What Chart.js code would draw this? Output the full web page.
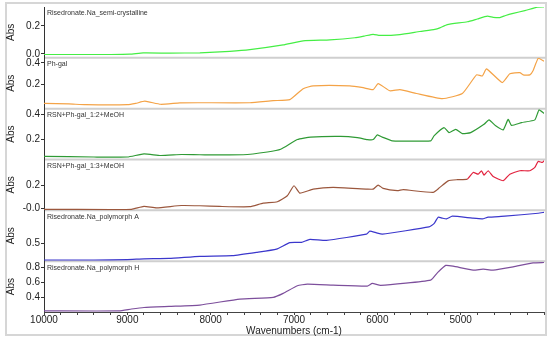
<!DOCTYPE html>
<html>
<head>
<meta charset="utf-8">
<script src="https://cdn.jsdelivr.net/npm/chart.js@4.4.1/dist/chart.umd.min.js"></script>
<style>
  body { margin: 0; background: #fff; }
  #wrap { position: relative; width: 550px; height: 345px; }
  #frame { position: absolute; left: 5px; top: 2px; width: 538px; height: 330px; border: 2px solid #d6d6d6; }
  canvas { position: absolute; left: 0; top: 0; }
</style>
</head>
<body>
<div id="wrap"><div id="frame"></div><canvas id="chart" width="550" height="345"></canvas></div>
<script>
// spectra (wavenumber cm-1, absorbance)
var wnSemi = [10000, 9200, 8970, 8810, 8490, 8130, 7770, 7530, 7130, 6890, 6570, 6270, 6150, 6050, 5970, 5730, 5490, 5310, 5250, 5160, 4920, 4800, 4680, 4610, 4530, 4460, 4370, 4230, 4080, 4000]
var absSemi = [-0.005, -0.005, -0.003, 0.006, 0.005, 0.007, 0.018, 0.03, 0.064, 0.093, 0.1, 0.115, 0.128, 0.14, 0.132, 0.138, 0.16, 0.175, 0.186, 0.21, 0.23, 0.25, 0.27, 0.262, 0.26, 0.275, 0.29, 0.31, 0.335, 0.336]

var wnPh = [10000, 9700, 9500, 9000, 8900, 8790, 8600, 8370, 8130, 7530, 7250, 7050, 6890, 6770, 6330, 6170, 6050, 5990, 5850, 5730, 5530, 5220, 4980, 4810, 4740, 4690, 4500, 4410, 4290, 4250, 4170, 4130, 4070, 4000]
var absPh = [0.03, 0.025, 0.018, 0.018, 0.03, 0.05, 0.022, 0.035, 0.036, 0.036, 0.055, 0.064, 0.164, 0.19, 0.19, 0.173, 0.155, 0.21, 0.145, 0.155, 0.12, 0.073, 0.12, 0.29, 0.28, 0.345, 0.22, 0.3, 0.31, 0.29, 0.29, 0.33, 0.44, 0.415]

var wnR2 = [10000, 9400, 9000, 8800, 8600, 8350, 8130, 7610, 7320, 7160, 6960, 6800, 6440, 6240, 6120, 6050, 6000, 5940, 5820, 5360, 5320, 5200, 5140, 5060, 4980, 4880, 4720, 4660, 4580, 4490, 4430, 4390, 4270, 4110, 4060, 4000]
var absR2 = [0.065, 0.06, 0.06, 0.085, 0.072, 0.08, 0.078, 0.078, 0.1, 0.122, 0.2, 0.22, 0.226, 0.216, 0.2, 0.2, 0.238, 0.22, 0.19, 0.19, 0.23, 0.296, 0.256, 0.282, 0.248, 0.256, 0.322, 0.358, 0.31, 0.278, 0.362, 0.314, 0.336, 0.358, 0.438, 0.41]

var wnR3 = [10000, 9200, 8950, 8800, 8650, 8350, 8130, 7890, 7530, 7370, 7200, 7080, 7000, 6930, 6770, 6530, 6120, 6050, 5990, 5930, 5760, 5690, 5330, 5250, 5150, 5040, 4920, 4850, 4790, 4750, 4720, 4670, 4610, 4490, 4410, 4290, 4170, 4110, 4070, 4020, 4000]
var absR3 = [-0.008, -0.01, -0.008, 0.017, 0.005, 0.025, 0.023, 0.017, 0.015, 0.046, 0.058, 0.11, 0.197, 0.133, 0.168, 0.183, 0.168, 0.168, 0.203, 0.174, 0.154, 0.163, 0.139, 0.183, 0.24, 0.25, 0.255, 0.313, 0.298, 0.328, 0.29, 0.328, 0.278, 0.241, 0.298, 0.328, 0.328, 0.357, 0.409, 0.4, 0.415]

var wnA = [10000, 9400, 9000, 8800, 8500, 8130, 7740, 7450, 7210, 7050, 6910, 6810, 6610, 6130, 6090, 6010, 5940, 5380, 5320, 5270, 5220, 5170, 5100, 4860, 4740, 4670, 4470, 4070, 4000]
var absA = [0.29, 0.29, 0.295, 0.305, 0.31, 0.3375, 0.346, 0.3875, 0.429, 0.5125, 0.516, 0.554, 0.541, 0.621, 0.659, 0.6375, 0.621, 0.7125, 0.754, 0.8375, 0.825, 0.816, 0.85, 0.825, 0.816, 0.8375, 0.85, 0.8875, 0.9]

var wnH = [10000, 9100, 8950, 8800, 8500, 8130, 7650, 7250, 7130, 6960, 6840, 6530, 6120, 6060, 5960, 5360, 5280, 5180, 5090, 4850, 4730, 4610, 4370, 4130, 4000]
var absH = [0.215, 0.215, 0.24, 0.26, 0.275, 0.293, 0.373, 0.396, 0.449, 0.551, 0.573, 0.56, 0.547, 0.583, 0.556, 0.627, 0.724, 0.823, 0.813, 0.76, 0.773, 0.76, 0.804, 0.857, 0.862]

var panelNames = ['Risedronate.Na_semi-crystalline', 'Ph-gal', 'RSN+Ph-gal_1:2+MeOH', 'RSN+Ph-gal_1:3+MeOH', 'Risedronate.Na_polymorph A', 'Risedronate.Na_polymorph H']
var yMins = [-0.029, -0.018, 0.04, -0.017, 0.275, 0.2]
var yMaxs = [0.336, 0.445, 0.448, 0.426, 0.925, 0.88]
var yTickVals = [[0, 0.2], [0.2, 0.4], [0.2, 0.4], [0, 0.2], [0.5], [0.4, 0.6, 0.8]]
var yTickText = [['0.0', '0.2'], ['0.2', '0.4'], ['0.2', '0.4'], ['-0.0', '0.2'], ['0.5'], ['0.4', '0.6', '0.8']]
var xLabels = [10000, 9000, 8000, 7000, 6000, 5000]

var wnSets = [wnSemi, wnPh, wnR2, wnR3, wnA, wnH]
var absSets = [absSemi, absPh, absR2, absR3, absA, absH]
var lineColors = ['#45ee45', '#f4a347', '#2f9a35', '#e2233f', '#3b37cc', '#7d4f9c']
var brown = '#9b573d'

var font = 'Liberation Sans'

function points(i) {
    return wnSets[i].map(function (w, k) { return { x: w, y: absSets[i][k] } })
}

var datasets = []
for (let i = 0; i < 6; i++) {
    var ds = {
        label: panelNames[i],
        data: points(i),
        yAxisID: 'y' + i,
        borderColor: lineColors[i],
        borderWidth: 1.2,
        pointRadius: 0,
        tension: 0.15,
        fill: false
    }
    if (i === 3) {
        // left part of this trace is drawn brownish in the original
        ds.segment = {
            borderColor: function (c) { return c.p0.parsed.x > 4930 ? brown : lineColors[3] }
        }
    }
    datasets.push(ds)
}

var scales = {
    x: {
        type: 'linear',
        min: 4000,
        max: 10000,
        reverse: true,
        afterBuildTicks: function (s) {
            var t = []
            for (var v = 4000; v <= 10000; v += 200) t.push({ value: v })
            s.ticks = t
        },
        afterFit: function (s) { s.height = 25 },
        ticks: {
            autoSkip: false,
            maxRotation: 0,
            padding: -1,
            color: '#222',
            font: { family: font, size: 10 },
            callback: function (v) { return xLabels.indexOf(v) >= 0 ? String(v) : '' }
        },
        grid: { drawOnChartArea: false, tickLength: 3, color: '#444' },
        border: { color: '#444' },
        title: {
            display: true,
            text: 'Wavenumbers (cm-1)',
            color: '#222',
            font: { family: font, size: 10 },
            padding: { top: 0, bottom: 0 }
        }
    }
}

// stacked axes are laid out bottom first, so add the last panel first
for (let i = 5; i >= 0; i--) {
    scales['y' + i] = {
        type: 'linear',
        position: 'left',
        stack: 'panels',
        stackWeight: 1,
        min: yMins[i],
        max: yMaxs[i],
        afterBuildTicks: function (s) {
            s.ticks = yTickVals[i].map(function (v) { return { value: v } })
        },
        afterFit: function (s) { s.width = 44 },
        ticks: {
            autoSkip: false,
            padding: 1,
            color: '#222',
            font: { family: font, size: 10 },
            callback: function (v, idx) { return yTickText[i][idx] }
        },
        grid: { drawOnChartArea: false, tickLength: 3, color: '#333' },
        border: { color: '#333', dash: [1, 2] },
        title: {
            display: true,
            text: 'Abs',
            color: '#222',
            font: { family: font, size: 10 },
            padding: { top: 5, bottom: 0 }
        }
    }
}

var panelDecor = {
    id: 'panelDecor',
    beforeDatasetsDraw: function (chart) {
        var ctx = chart.ctx
        var area = chart.chartArea
        ctx.save()
        ctx.strokeStyle = '#cfcfcf'
        ctx.lineWidth = 2
        for (var i = 0; i < 5; i++) {
            var s = chart.scales['y' + i]
            ctx.beginPath()
            ctx.moveTo(area.left + 1, s.bottom)
            ctx.lineTo(area.right + 2, s.bottom)
            ctx.stroke()
        }
        ctx.restore()
    },
    afterDatasetsDraw: function (chart) {
        var ctx = chart.ctx
        var area = chart.chartArea
        ctx.save()
        ctx.fillStyle = '#333'
        ctx.font = '7px "' + font + '"'
        ctx.textBaseline = 'top'
        for (var i = 0; i < 6; i++) {
            var s = chart.scales['y' + i]
            ctx.fillText(panelNames[i], area.left + 3, s.top + 3)
        }
        ctx.restore()
    }
}

new Chart(document.getElementById('chart'), {
    type: 'line',
    data: { datasets: datasets },
    options: {
        responsive: false,
        animation: false,
        layout: { padding: { left: 0, top: 4, right: 6, bottom: 8 } },
        plugins: { legend: { display: false }, tooltip: { enabled: false } },
        scales: scales
    },
    plugins: [panelDecor]
})
</script>
</body>
</html>
